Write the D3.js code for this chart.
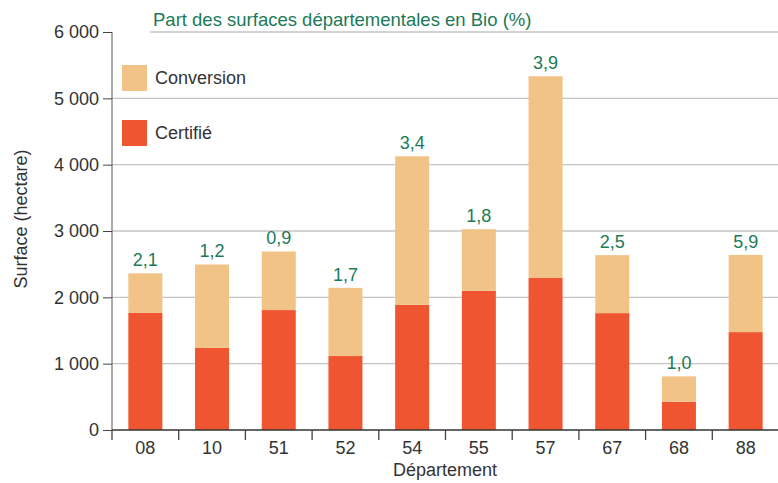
<!DOCTYPE html>
<html>
<head>
<meta charset="utf-8">
<script src="https://cdn.jsdelivr.net/npm/d3@7"></script>
<style>
  body { margin: 0; background: #fff; }
  svg { font-family: "Liberation Sans", Arial, sans-serif; }
</style>
</head>
<body>
<div id="chart"></div>
<script>
const departements = ["08", "10", "51", "52", "54", "55", "57", "67", "68", "88"]
const certifie = [1765, 1240, 1808, 1115, 1887, 2098, 2298, 1762, 426, 1476]
const conversion = [597, 1255, 883, 1028, 2240, 929, 3035, 874, 383, 1164]
const partBio = ["2,1", "1,2", "0,9", "1,7", "3,4", "1,8", "3,9", "2,5", "1,0", "5,9"]
const yTicks = [0, 1000, 2000, 3000, 4000, 5000, 6000]

const colors = { conversion: "#f2c386", certifie: "#f05532" }
const fontSize = "18px"

let dimensions = {
    width: 778,
    height: 483,
    margin: { top: 32, right: 0, bottom: 53, left: 112 },
}
dimensions.boundedWidth = dimensions.width - dimensions.margin.left - dimensions.margin.right
dimensions.boundedHeight = dimensions.height - dimensions.margin.top - dimensions.margin.bottom

const data = departements.map((d, i) => ({
    dep: d,
    certifie: certifie[i],
    conversion: conversion[i],
    part: partBio[i],
}))

const wrapper = d3.select("#chart").append("svg")
    .attr("width", dimensions.width)
    .attr("height", dimensions.height)

const bounds = wrapper.append("g")
    .attr("transform", `translate(${dimensions.margin.left},${dimensions.margin.top})`)

// scales
const xScale = d3.scaleBand()
    .domain(departements)
    .range([0, dimensions.boundedWidth + 1])
    .paddingInner(0.49)
    .paddingOuter(0.245)

const yScale = d3.scaleLinear()
    .domain([0, 6000])
    .range([dimensions.boundedHeight, 0])

// gridlines
bounds.append("g")
    .selectAll("line")
    .data(yTicks.filter(d => d > 0))
    .join("line")
    .attr("x1", d => d == 6000 ? 38 : 0)
    .attr("x2", dimensions.boundedWidth)
    .attr("y1", d => yScale(d))
    .attr("y2", d => yScale(d))
    .attr("stroke", "#c4c4c4")
    .attr("stroke-width", 1.3)

// stacked bars
const stack = d3.stack().keys(["certifie", "conversion"])(data)

bounds.append("g")
    .selectAll("g")
    .data(stack)
    .join("g")
    .attr("fill", d => colors[d.key])
    .selectAll("rect")
    .data(d => d)
    .join("rect")
    .attr("x", d => xScale(d.data.dep))
    .attr("width", xScale.bandwidth())
    .attr("y", d => yScale(d[1]))
    .attr("height", d => yScale(d[0]) - yScale(d[1]))

// value labels
bounds.append("g")
    .selectAll("text")
    .data(data)
    .join("text")
    .attr("x", d => xScale(d.dep) + xScale.bandwidth() / 2)
    .attr("y", d => yScale(d.certifie + d.conversion) - 7)
    .attr("text-anchor", "middle")
    .attr("fill", "#1b7a57")
    .style("font-size", fontSize)
    .text(d => d.part)

// axes
const formatTick = d => d3.format(",")(d).replace(",", " ")

const yAxis = bounds.append("g")
    .call(d3.axisLeft(yScale).tickValues(yTicks).tickFormat(formatTick).tickSize(9).tickPadding(4))
yAxis.select(".domain").attr("stroke", "#555").attr("d", `M0,0V${dimensions.boundedHeight}`)
yAxis.selectAll(".tick line").attr("stroke", "#444")
yAxis.selectAll("text").style("font-size", fontSize).attr("fill", "#333")

const xAxis = bounds.append("g")
    .attr("transform", `translate(0,${dimensions.boundedHeight})`)
xAxis.append("line")
    .attr("x1", 0)
    .attr("x2", dimensions.boundedWidth)
    .attr("stroke", "#333")
    .attr("stroke-width", 1.3)
xAxis.selectAll(".sep")
    .data(departements)
    .join("line")
    .attr("class", "sep")
    .attr("x1", d => xScale(d) - xScale.step() * xScale.paddingInner() / 2)
    .attr("x2", d => xScale(d) - xScale.step() * xScale.paddingInner() / 2)
    .attr("y1", 0)
    .attr("y2", 10)
    .attr("stroke", "#444")
    .attr("stroke-width", 1.3)
xAxis.selectAll(".lab")
    .data(departements)
    .join("text")
    .attr("class", "lab")
    .attr("x", d => xScale(d) + xScale.bandwidth() / 2)
    .attr("y", 24)
    .attr("text-anchor", "middle")
    .attr("fill", "#333")
    .style("font-size", fontSize)
    .text(d => d)

// axis titles
wrapper.append("text")
    .attr("x", dimensions.margin.left + dimensions.boundedWidth / 2)
    .attr("y", 476)
    .attr("text-anchor", "middle")
    .attr("fill", "#333")
    .style("font-size", fontSize)
    .text("Département")

wrapper.append("text")
    .attr("transform", `translate(27,219) rotate(-90)`)
    .attr("text-anchor", "middle")
    .attr("fill", "#333")
    .style("font-size", fontSize)
    .text("Surface (hectare)")

wrapper.append("text")
    .attr("x", 153)
    .attr("y", 26)
    .attr("fill", "#1b7a57")
    .style("font-size", "18.5px")
    .text("Part des surfaces départementales en Bio (%)")

// legend
const legendItems = [
    { label: "Conversion", color: colors.conversion, y: 65 },
    { label: "Certifié", color: colors.certifie, y: 120 },
]
const legend = wrapper.append("g")
legend.selectAll("rect")
    .data(legendItems)
    .join("rect")
    .attr("x", 122)
    .attr("y", d => d.y)
    .attr("width", 25)
    .attr("height", 26)
    .attr("fill", d => d.color)
legend.selectAll("text")
    .data(legendItems)
    .join("text")
    .attr("x", 155)
    .attr("y", d => d.y + 19)
    .attr("fill", "#333")
    .style("font-size", fontSize)
    .text(d => d.label)
</script>
</body>
</html>
